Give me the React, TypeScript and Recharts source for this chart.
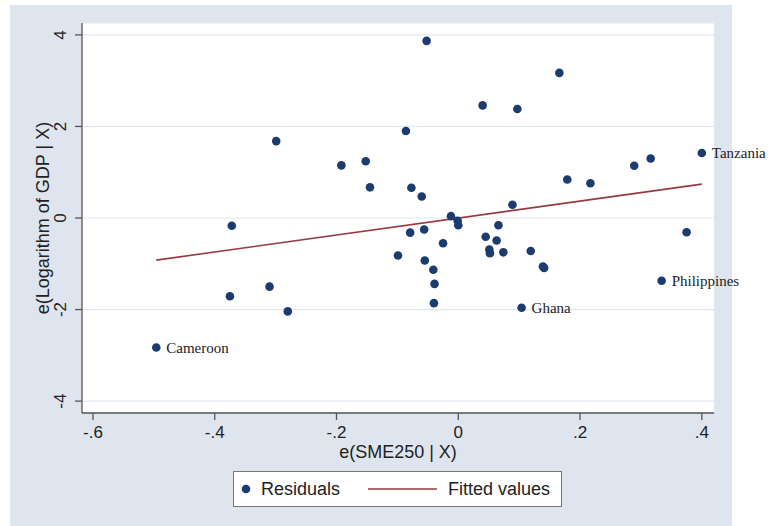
import React from 'react'
import { ScatterChart, Scatter, XAxis, YAxis, CartesianGrid, LabelList, Label } from 'recharts'

// residuals
const resX = [
  -0.496, -0.372, -0.375, -0.31, -0.299, -0.28, -0.192, -0.152, -0.145, -0.086,
  -0.099, -0.077, -0.079, -0.06, -0.056, -0.055, -0.052, -0.041, -0.039, -0.04,
  -0.025, -0.012, -0.001, 0.0, 0.04, 0.045, 0.063, 0.051, 0.052, 0.066,
  0.074, 0.089, 0.097, 0.104, 0.119, 0.139, 0.141, 0.166, 0.179, 0.217,
  0.289, 0.316, 0.334, 0.375, 0.4,
]
const resY = [
  -2.83, -0.17, -1.71, -1.5, 1.68, -2.04, 1.15, 1.24, 0.67, 1.9,
  -0.82, 0.66, -0.32, 0.47, -0.25, -0.93, 3.87, -1.13, -1.44, -1.86,
  -0.55, 0.04, -0.06, -0.16, 2.46, -0.41, -0.49, -0.69, -0.77, -0.16,
  -0.75, 0.29, 2.38, -1.96, -0.72, -1.06, -1.09, 3.17, 0.84, 0.76,
  1.14, 1.3, -1.37, -0.31, 1.42,
]
const resName = [
  'Cameroon', '', '', '', '', '', '', '', '', '',
  '', '', '', '', '', '', '', '', '', '',
  '', '', '', '', '', '', '', '', '', '',
  '', '', '', 'Ghana', '', '', '', '', '', '',
  '', '', 'Philippines', '', 'Tanzania',
]

// fitted line end points
const fitX = [-0.496, 0.4]
const fitY = [-0.92, 0.74]

const xTicks = [-0.6, -0.4, -0.2, 0, 0.2, 0.4]
const yTicks = [-4, -2, 0, 2, 4]

const navy = '#1c3b6f'
const maroon = '#953a3f'
const axisColor = '#555'
const sans = '"Liberation Sans", Arial, sans-serif'
const serif = '"Liberation Serif", "Times New Roman", serif'

const residuals = resX.map((x, i) => ({ x, y: resY[i], name: resName[i] }))
const fitted = fitX.map((x, i) => ({ x, y: fitY[i] }))

// Stata style: -.6, .2, 0
const fmtX = (v: number) => {
  if (v === 0) return '0'
  const s = Math.abs(v).toFixed(1).replace(/^0/, '')
  return v < 0 ? '-' + s : s
}

const YTick = ({ x, y, payload }: any) => (
  <text
    x={x}
    y={y}
    transform={`rotate(-90, ${x}, ${y})`}
    textAnchor="middle"
    fontSize={17}
    fontFamily={sans}
    fill="#222"
  >
    {payload.value}
  </text>
)

const Dot = (props: any) => <circle cx={props.cx} cy={props.cy} r={4.3} fill={navy} />

const PointLabel = (props: any) => {
  const { x, y, width, height, value } = props
  if (!value) return null
  const cx = x + width / 2
  const cy = y + height / 2
  return (
    <text x={cx + 10} y={cy + 5} fontSize={15} fontFamily={serif} fill="#222">
      {value}
    </text>
  )
}

export default function App() {
  return (
    <div style={{ position: 'absolute', left: 0, top: 0, width: 768, height: 526, background: '#fff' }}>
      <div style={{ position: 'absolute', left: 10, top: 5, width: 722, height: 521, background: '#dfe5ef' }} />
      <div style={{ position: 'absolute', left: 0, top: 0 }}>
        <ScatterChart width={768} height={526} margin={{ top: 23, right: 54, bottom: 0, left: 0 }}>
          <CartesianGrid vertical={false} stroke="#e3e8f0" fill="#fff" strokeWidth={1.2} />
          <XAxis
            type="number"
            dataKey="x"
            domain={[-0.618, 0.42]}
            ticks={xTicks}
            tickFormatter={fmtX}
            height={113}
            tickSize={7}
            tickMargin={6}
            stroke={axisColor}
            strokeWidth={1.3}
            tick={{ fontSize: 17, fontFamily: sans, fill: '#222' }}
            allowDataOverflow
          >
            <Label
              content={({ viewBox }: any) => (
                <text
                  x={viewBox.x + viewBox.width / 2}
                  y={458}
                  textAnchor="middle"
                  fontSize={18}
                  fontFamily={sans}
                  fill="#222"
                >
                  e(SME250 | X)
                </text>
              )}
            />
          </XAxis>
          <YAxis
            type="number"
            dataKey="y"
            domain={[-4.26, 4.26]}
            ticks={yTicks}
            width={82}
            tickSize={7}
            tickMargin={9}
            stroke={axisColor}
            strokeWidth={1.3}
            tick={<YTick />}
            allowDataOverflow
          >
            <Label
              content={({ viewBox }: any) => {
                const cy = viewBox.y + viewBox.height / 2
                return (
                  <text
                    x={49}
                    y={cy}
                    transform={`rotate(-90, 49, ${cy})`}
                    textAnchor="middle"
                    fontSize={18}
                    fontFamily={sans}
                    fill="#222"
                  >
                    e(Logarithm of GDP | X)
                  </text>
                )
              }}
            />
          </YAxis>
          <Scatter
            name="Fitted values"
            data={fitted}
            line={{ stroke: maroon, strokeWidth: 1.6 }}
            shape={() => <g />}
            isAnimationActive={false}
          />
          <Scatter name="Residuals" data={residuals} shape={Dot} isAnimationActive={false}>
            <LabelList dataKey="name" content={<PointLabel />} />
          </Scatter>
        </ScatterChart>
      </div>
      <svg
        width={329}
        height={36}
        style={{ position: 'absolute', left: 233, top: 471 }}
      >
        <rect x={0.5} y={0.5} width={328} height={35} fill="#fff" stroke="#777" />
        <circle cx={13} cy={18} r={4.3} fill={navy} />
        <text x={28} y={24} fontSize={18} fontFamily={sans} fill="#222">Residuals</text>
        <line x1={135} y1={18} x2={204} y2={18} stroke={maroon} strokeWidth={1.6} />
        <text x={215} y={24} fontSize={18} fontFamily={sans} fill="#222">Fitted values</text>
      </svg>
    </div>
  )
}
